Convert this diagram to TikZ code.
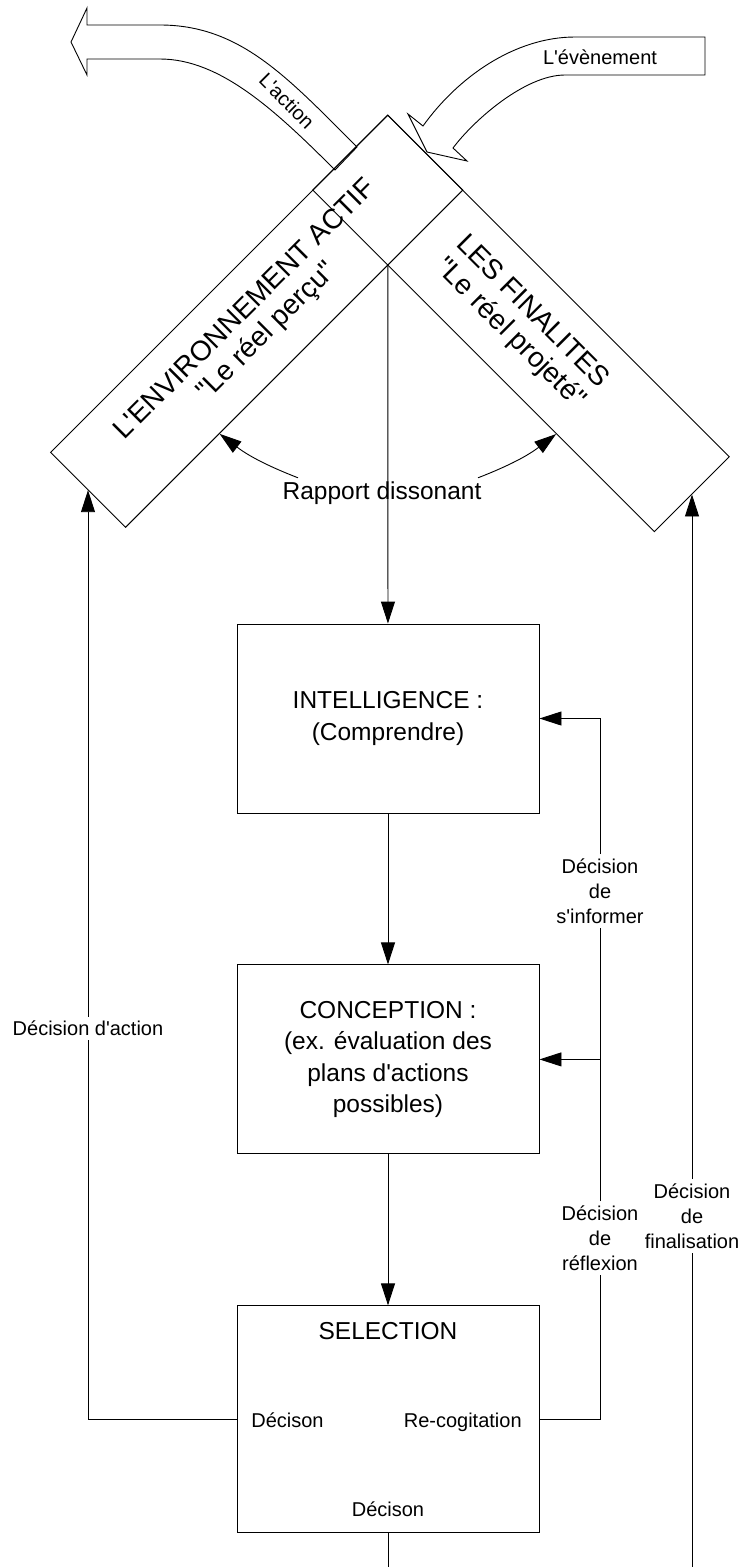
\documentclass[tikz,border=0pt]{standalone}
\usepackage{fontspec}
\setmainfont{Liberation Sans}[Ligatures=TeXOff]
\usepackage{tikz}
\usetikzlibrary{arrows.meta,positioning,calc}

\newcommand{\txtbox}{\fontsize{24.5}{31.5}\selectfont}
\newcommand{\txtwing}{\fontsize{28}{31}\selectfont}
\newcommand{\txtsmall}{\fontsize{20}{25}\selectfont}

\tikzset{
    stage/.style={draw, minimum width=302pt, minimum height=189pt, align=center, font=\txtbox},
    wing/.style={draw, minimum height=106pt, align=center, font=\txtwing},
    declabel/.style={align=center, font=\txtsmall, inner sep=4pt},
    flow/.style={-{Triangle[length=22pt,width=14pt]}}
}

\begin{document}
\begin{tikzpicture}[x=1pt, y=-1pt, line width=0.9pt]
    \useasboundingbox (0,0) rectangle (742,1567);

    % Environment and finalities
    \node[wing, rotate=45, minimum width=477pt] (env) at (256.7,321.2) {L'ENVIRONNEMENT ACTIF\\"Le réel perçu"};
    \node[wing, rotate=-45, minimum width=483pt] (fin) at (521,323.4) {LES FINALITES\\"Le réel projeté"};
    \coordinate (cross) at (intersection of env.south west--env.south east and fin.south west--fin.south east);

    % Action and event
    \draw (357,147) .. controls (287,77) and (240,25) .. (160,25) -- (87,25) -- (87,8) -- (71,42) -- (87,75) -- (87,59) -- (160,59) .. controls (220,59) and (275,110) .. (335,170) -- cycle;
    \node[rotate=-45, font=\txtsmall] (act) at (287,101) {L'action};
    \draw (705,37) -- (575,37) .. controls (515,37) and (458,77) .. (423,126) -- (408,114) -- (427,152) -- (467,161) -- (453,148) .. controls (474,120) and (525,75) .. (565,75) -- (705,75) -- cycle;
    \node[font=\txtsmall] (evt) at (600,57) {L'évènement};

    % Dissonance
    \node[font=\txtbox] (rap) at (382,493) {Rapport dissonant};
    \draw[flow] ([xshift=-84pt]rap.north) to[bend left=8] ($(env.south)!0.443!(env.south west)$);
    \draw[flow] ([xshift=96pt]rap.north) to[bend right=8] ($(fin.south)!0.426!(fin.south east)$);

    % Decision stages
    \node[stage] (int) at (388,718.5) {INTELLIGENCE :\\(Comprendre)};
    \node[stage, below=151pt of int] (con) {CONCEPTION :\\(ex. évaluation des\\plans d'actions\\possibles)};
    \node[stage, minimum height=227pt, below=151pt of con] (sel) {};
    \node[anchor=base, font=\txtbox] at ($(sel.north)+(0,34)$) {SELECTION};
    \node[anchor=base west, font=\txtsmall] at ($(sel.west)+(11,8.5)$) {Décison};
    \node[anchor=base east, font=\txtsmall] at ($(sel.east)+(-14,8.5)$) {Re-cogitation};
    \node[anchor=base, font=\txtsmall] at ($(sel.south)+(0,-17)$) {Décison};

    \draw[flow] (cross) -- (int);
    \draw[flow] (int) -- (con);
    \draw[flow] (con) -- (sel);
    \coordinate (sbot) at (388,1567);
    \draw (sel.south) -- (sbot);

    % Feedback loops
    \node[declabel] (dact) at (88,1028.5) {Décision d'action};
    \draw (sel.west) -| (dact);
    \draw[flow] (dact) -- (dact |- env.west);

    \node[declabel] (drefl) at (600,1238) {Décision\\de\\réflexion};
    \node[declabel] (dinf) at (600,891) {Décision\\de\\s'informer};
    \draw (sel.east) -| (drefl);
    \draw (drefl) -- (dinf);
    \draw[flow] (dinf) |- (int.east);
    \draw[flow] (dinf |- con.east) -- (con.east);

    \node[declabel] (dfin) at (692,1216) {Décision\\de\\finalisation};
    \coordinate (fbot) at (692,1567);
    \draw (fbot) -- (dfin);
    \draw[flow] (dfin) -- (dfin |- fin.east);
\end{tikzpicture}
\end{document}
